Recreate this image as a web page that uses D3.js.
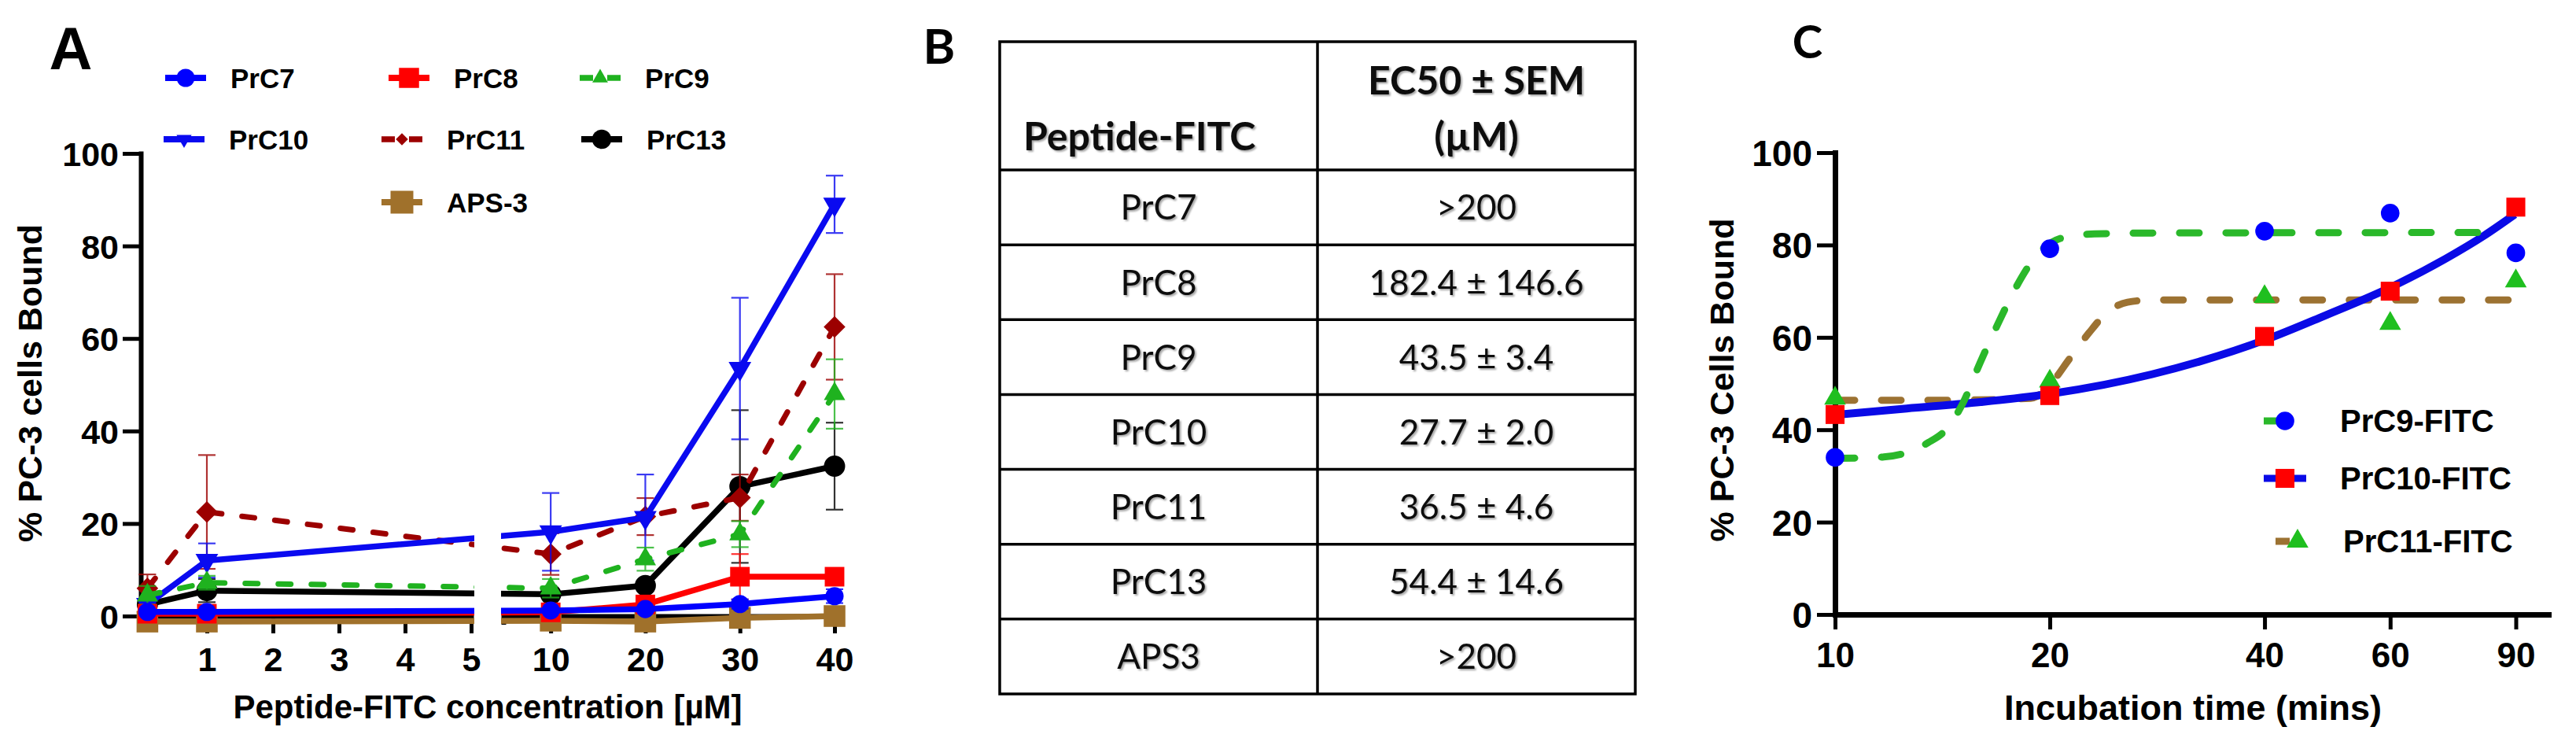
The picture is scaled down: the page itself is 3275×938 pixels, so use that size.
<!DOCTYPE html>
<html>
<head>
<meta charset="utf-8">
<script src="https://cdnjs.cloudflare.com/ajax/libs/d3/7.8.5/d3.min.js"></script>
<style>
    body { margin: 0; background: #ffffff; }
    svg  { display: block; }
</style>
</head>
<body>
<div id="graph_container"></div>
<script>
// ---------- panel A : binding vs concentration (mean, SEM) ----------
var concentrations = [0.1, 1, 10, 20, 30, 40];
var prc7_mean  = [0.9, 0.9, 1.2, 1.5, 2.6, 4.3];
var prc7_sem   = [0.5, 0.5, 0.5, 0.5, 1.0, 1.5];
var prc8_mean  = [0.5, 0.5, 0.8, 2.5, 8.5, 8.5];
var prc8_sem   = [0.5, 0.5, 0.5, 1.0, 4.9, 1.5];
var prc9_mean  = [4.5, 7.2, 6.0, 12.3, 17.7, 48.0];
var prc9_sem   = [2.0, 1.5, 2.0, 2.5, 2.8, 7.5];
var prc10_mean = [2.5, 12.0, 18.2, 21.3, 53.5, 89.0];
var prc10_sem  = [1.0, 3.7, 8.4, 9.3, 15.3, 6.2];
var prc11_mean = [6.0, 22.5, 13.4, 21.5, 25.6, 62.5];
var prc11_sem  = [3.0, 12.3, 4.5, 4.0, 5.0, 11.4];
var prc13_mean = [2.5, 5.5, 4.7, 6.6, 28.0, 32.4];
var prc13_sem  = [1.0, 2.5, 1.0, 1.0, 16.5, 9.4];
var aps3_mean  = [-1.2, -1.2, -1.0, -1.2, -0.4, 0.0];
var aps3_sem   = [0.3, 0.3, 0.3, 0.3, 0.3, 0.3];

var concTicksLow  = [1, 2, 3, 4, 5];
var concTicksHigh = [10, 20, 30, 40];
var percentTicks  = [0, 20, 40, 60, 80, 100];

// ---------- panel B : EC50 table ----------
var tablePeptides = ["PrC7", "PrC8", "PrC9", "PrC10", "PrC11", "PrC13", "APS3"];
var tableEC50     = [">200", "182.4 ± 146.6", "43.5 ± 3.4", "27.7 ± 2.0", "36.5 ± 4.6", "54.4 ± 14.6", ">200"];

// ---------- panel C : binding vs incubation time ----------
var times      = [10, 20, 40, 60, 90];
var timeTicks  = [10, 20, 40, 60, 90];
var prc9_time  = [34.0, 79.2, 83.0, 86.9, 78.3];
var prc10_time = [43.3, 47.4, 60.2, 70.0, 88.2];
var prc11_time = [46.8, 50.5, 68.8, 63.0, 72.2];

// fitted curves
var prc9_fit_t   = [10, 11.7, 13.5, 14.3, 15.1, 16.0, 16.9, 18.0, 19.1, 20.9, 23.1, 27.8, 83.5];
var prc9_fit_y   = [33.8, 34.1, 37.2, 40.0, 45.7, 54.8, 62.8, 71.3, 77.5, 81.6, 82.4, 82.6, 82.7];
var prc10_fit_t  = [10, 12.6, 16.0, 20.1, 27.8, 40.3, 48.4, 60.4, 71.7, 81.2, 89.7];
var prc10_fit_y  = [43.2, 44.6, 46.0, 47.8, 52.0, 59.6, 64.6, 71.0, 77.0, 82.0, 86.6];
var prc11_fit_t  = [10, 14.3, 18.8, 20.0, 21.3, 22.7, 24.1, 25.7, 27.8, 90];
var prc11_fit_y  = [46.4, 46.4, 46.8, 49.7, 55.3, 61.0, 65.5, 67.6, 68.1, 68.1];


var arial   = "'Liberation Sans', Arial, Helvetica, sans-serif";
var calibri = "Lato, 'Open Sans', sans-serif";

var svg = d3.select("#graph_container").append("svg")
    .attr("width", 3275)
    .attr("height", 938);

svg.append("rect").attr("width", 3275).attr("height", 938).attr("fill", "#ffffff");

var defs = svg.append("defs");
var shadow = defs.append("filter").attr("id", "txtshadow")
    .attr("x", "-10%").attr("y", "-20%").attr("width", "130%").attr("height", "150%");
shadow.append("feDropShadow")
    .attr("dx", 2).attr("dy", 2).attr("stdDeviation", 1.2)
    .attr("flood-color", "#000").attr("flood-opacity", 0.35);

// marker shapes: d3 symbols, a few of them turned
var symbolTypes = {
    circle:       [d3.symbolCircle, 0],
    square:       [d3.symbolSquare, 0],
    triangle:     [d3.symbolTriangle, 0],
    triangleDown: [d3.symbolTriangle, 180],
    diamond:      [d3.symbolSquare, 45]
};

function addMarker(sel, kind, size, color) {
    return sel.append("path")
        .attr("d", d3.symbol().type(symbolTypes[kind][0]).size(size)())
        .attr("fill", color);
}

function markerTransform(x, y, kind) {
    var r = symbolTypes[kind][1];
    return "translate(" + x + "," + y + ")" + (r ? " rotate(" + r + ")" : "");
}

function styleAxis(g, lineW, tickW) {
    g.select(".domain").attr("stroke", "#000").attr("stroke-width", lineW).attr("stroke-linecap", "square");
    g.selectAll(".tick line").attr("stroke", "#000").attr("stroke-width", tickW);
}


// =====================================================================
// Panel A
// =====================================================================
function draw_panel_a() {
    var g = svg.append("g");

    var yA     = d3.scaleLinear().domain([0, 100]).range([783, 195]);
    var xLow   = d3.scaleLinear().domain([0, 5]).range([179, 599]);
    var xHigh  = d3.scaleLinear().domain([5, 40]).range([640, 1061]);
    var xA     = function(v) { return v <= 5 ? xLow(v) : xHigh(v); };

    // legend symbols are drawn smaller than the plotted ones for a few sets
    var series = [
        {name: "PrC7",  mean: prc7_mean,  sem: prc7_sem,  color: "#0000ff", dashed: false, sym: "circle",       size: 420, legSize: 415, lx: 236, ly: 99},
        {name: "PrC8",  mean: prc8_mean,  sem: prc8_sem,  color: "#ff0000", dashed: false, sym: "square",       size: 620, legSize: 650, lx: 520, ly: 99},
        {name: "PrC9",  mean: prc9_mean,  sem: prc9_sem,  color: "#1fb21f", dashed: true,  sym: "triangle",     size: 320, legSize: 170, lx: 763, ly: 99},
        {name: "PrC10", mean: prc10_mean, sem: prc10_sem, color: "#0a0af0", dashed: false, sym: "triangleDown", size: 360, legSize: 160, lx: 234, ly: 177},
        {name: "PrC11", mean: prc11_mean, sem: prc11_sem, color: "#9c0000", dashed: true,  sym: "diamond",      size: 380, legSize: 120, lx: 511, ly: 177},
        {name: "PrC13", mean: prc13_mean, sem: prc13_sem, color: "#000000", dashed: false, sym: "circle",       size: 570, legSize: 470, lx: 765, ly: 177},
        {name: "APS-3", mean: aps3_mean,  sem: aps3_sem,  color: "#a0712b", dashed: false, sym: "square",       size: 760, legSize: 840, lx: 511, ly: 257}
    ];

    // axes
    var yAxis = g.append("g").attr("transform", "translate(179,0)")
        .call(d3.axisLeft(yA).tickValues(percentTicks).tickSize(23).tickSizeOuter(0).tickPadding(5));
    styleAxis(yAxis, 6, 5);
    yAxis.selectAll("text").attr("font-family", arial).attr("font-weight", "bold")
        .attr("font-size", 43).attr("fill", "#000").attr("dy", "0.36em");

    [[xLow, concTicksLow, 0], [xHigh, concTicksHigh, 8]].forEach(function(p) {
        var ax = g.append("g").attr("transform", "translate(0,783)")
            .call(d3.axisBottom(p[0]).tickValues(p[1]).tickFormat(d3.format("d"))
                .tickSize(22).tickSizeOuter(p[2]));
        styleAxis(ax, 6, 5);
        ax.selectAll("text").attr("font-family", arial).attr("font-weight", "bold")
            .attr("font-size", 43).attr("fill", "#000").attr("y", 70).attr("dy", null);
    });

    // data, last data set first so PrC7 ends on top
    series.slice().reverse().forEach(function(s) {
        var pts = concentrations.map(function(c, i) { return {x: c, y: s.mean[i], e: s.sem[i]}; });

        var eb = g.append("g").attr("stroke", s.color).attr("stroke-width", 2.2).attr("opacity", 0.8);
        eb.selectAll("line.v").data(pts).enter().append("line")
            .attr("x1", function(d) { return xA(d.x); }).attr("x2", function(d) { return xA(d.x); })
            .attr("y1", function(d) { return yA(d.y + d.e); }).attr("y2", function(d) { return yA(d.y - d.e); });
        eb.selectAll("line.t").data(pts).enter().append("line")
            .attr("x1", function(d) { return xA(d.x) - 11; }).attr("x2", function(d) { return xA(d.x) + 11; })
            .attr("y1", function(d) { return yA(d.y + d.e); }).attr("y2", function(d) { return yA(d.y + d.e); });
        eb.selectAll("line.b").data(pts).enter().append("line")
            .attr("x1", function(d) { return xA(d.x) - 11; }).attr("x2", function(d) { return xA(d.x) + 11; })
            .attr("y1", function(d) { return yA(d.y - d.e); }).attr("y2", function(d) { return yA(d.y - d.e); });

        var line = d3.line().x(function(d) { return xA(d.x); }).y(function(d) { return yA(d.y); });
        g.append("path").datum(pts)
            .attr("d", line)
            .attr("fill", "none")
            .attr("stroke", s.color)
            .attr("stroke-width", s.dashed ? 7 : 7.5)
            .attr("stroke-linecap", s.dashed ? "round" : "butt")
            .attr("stroke-linejoin", "round")
            .attr("stroke-dasharray", s.dashed ? "16 26" : null);

        pts.forEach(function(d) {
            addMarker(g, s.sym, s.size, s.color).attr("transform", markerTransform(xA(d.x), yA(d.y), s.sym));
        });
    });

    // axis break
    g.append("rect").attr("x", 603).attr("y", 150).attr("width", 34).attr("height", 680).attr("fill", "#ffffff");

    // legend
    series.forEach(function(s) {
        var cx = s.lx, cy = s.ly;
        var lg = g.append("g");
        if (s.dashed) {
            lg.append("line").attr("x1", cx - 26).attr("x2", cx - 9).attr("y1", cy).attr("y2", cy)
                .attr("stroke", s.color).attr("stroke-width", 7.5);
            lg.append("line").attr("x1", cx + 9).attr("x2", cx + 26).attr("y1", cy).attr("y2", cy)
                .attr("stroke", s.color).attr("stroke-width", 7.5);
        } else {
            lg.append("line").attr("x1", cx - 26).attr("x2", cx + 26).attr("y1", cy).attr("y2", cy)
                .attr("stroke", s.color).attr("stroke-width", 8);
        }
        addMarker(lg, s.sym, s.legSize, s.color).attr("transform", markerTransform(cx, cy, s.sym));
        lg.append("text").attr("x", cx + 57).attr("y", cy).attr("dy", "0.36em")
            .attr("font-family", arial).attr("font-weight", "bold").attr("font-size", 35)
            .text(s.name);
    });

    // titles
    g.append("text").attr("x", 90).attr("y", 88).attr("text-anchor", "middle")
        .attr("font-family", arial).attr("font-weight", "bold").attr("font-size", 76).text("A");
    g.append("text").attr("transform", "translate(53,487) rotate(-90)").attr("text-anchor", "middle")
        .attr("font-family", arial).attr("font-weight", "bold").attr("font-size", 43).text("% PC-3 cells Bound");
    g.append("text").attr("x", 620).attr("y", 913).attr("text-anchor", "middle")
        .attr("font-family", arial).attr("font-weight", "bold").attr("font-size", 42)
        .text("Peptide-FITC concentration [µM]");
}


// =====================================================================
// Panel B
// =====================================================================
function draw_panel_b() {
    var g = svg.append("g");

    var colX = d3.scaleBand().domain(["peptide", "ec50"]).range([1271, 2079]);
    var rowY = d3.scaleBand().domain(tablePeptides).range([216, 882]);
    var top  = 53;

    g.append("rect")
        .attr("x", 1271).attr("y", top).attr("width", 2079 - 1271).attr("height", 882 - top)
        .attr("fill", "none").attr("stroke", "#000").attr("stroke-width", 3.5);
    g.append("line").attr("x1", colX("ec50")).attr("x2", colX("ec50")).attr("y1", top).attr("y2", 882)
        .attr("stroke", "#000").attr("stroke-width", 3.5);

    g.selectAll("line.row").data(tablePeptides).enter().append("line")
        .attr("x1", 1271).attr("x2", 2079)
        .attr("y1", function(d) { return rowY(d); }).attr("y2", function(d) { return rowY(d); })
        .attr("stroke", "#000").attr("stroke-width", 3.5);

    var txt = g.append("g").attr("font-family", calibri).attr("fill", "#111").attr("filter", "url(#txtshadow)");

    txt.append("text").attr("x", 1301).attr("y", 173).attr("dy", "0.36em")
        .attr("font-weight", "bold").attr("font-size", 50).text("Peptide-FITC");
    txt.append("text").attr("x", colX("ec50") + colX.bandwidth() / 2).attr("y", 102).attr("dy", "0.36em")
        .attr("text-anchor", "middle").attr("font-weight", "bold").attr("font-size", 50).text("EC50 ± SEM");
    txt.append("text").attr("x", colX("ec50") + colX.bandwidth() / 2).attr("y", 173).attr("dy", "0.36em")
        .attr("text-anchor", "middle").attr("font-weight", "bold").attr("font-size", 50).text("(µM)");

    txt.selectAll("text.pep").data(tablePeptides).enter().append("text")
        .attr("x", colX("peptide") + colX.bandwidth() / 2)
        .attr("y", function(d) { return rowY(d) + rowY.bandwidth() / 2; })
        .attr("dy", "0.36em").attr("text-anchor", "middle").attr("font-size", 44)
        .text(function(d) { return d; });

    txt.selectAll("text.ec").data(tableEC50).enter().append("text")
        .attr("x", colX("ec50") + colX.bandwidth() / 2)
        .attr("y", function(d, i) { return rowY(tablePeptides[i]) + rowY.bandwidth() / 2; })
        .attr("dy", "0.36em").attr("text-anchor", "middle").attr("font-size", 44)
        .text(function(d) { return d; });

    g.append("text").attr("x", 1194).attr("y", 81).attr("text-anchor", "middle")
        .attr("font-family", calibri).attr("font-weight", "bold").attr("font-size", 62).text("B");
}


// =====================================================================
// Panel C
// =====================================================================
function draw_panel_c() {
    var g = svg.append("g");

    var xC = d3.scaleLog().domain([10, 100]).range([2333, 3240]);
    var yC = d3.scaleLinear().domain([0, 100]).range([781, 194]);

    var yAxis = g.append("g").attr("transform", "translate(2333,0)")
        .call(d3.axisLeft(yC).tickValues(percentTicks).tickSize(23).tickSizeOuter(0).tickPadding(6));
    styleAxis(yAxis, 7, 5);
    yAxis.selectAll("text").attr("font-family", arial).attr("font-weight", "bold")
        .attr("font-size", 46).attr("fill", "#000").attr("dy", "0.36em");

    var xAxis = g.append("g").attr("transform", "translate(0,781)")
        .call(d3.axisBottom(xC).tickValues(timeTicks).tickFormat(d3.format("d")).tickSize(19).tickSizeOuter(0));
    styleAxis(xAxis, 7, 5);
    xAxis.selectAll("text").attr("font-family", arial).attr("font-weight", "bold")
        .attr("font-size", 44).attr("fill", "#000").attr("y", 67).attr("dy", null);

    var curve = d3.line()
        .x(function(d) { return xC(d[0]); })
        .y(function(d) { return yC(d[1]); })
        .curve(d3.curveMonotoneX);

    var fits = [
        {t: prc11_fit_t, y: prc11_fit_y, color: "#9c7232", dashed: true},
        {t: prc10_fit_t, y: prc10_fit_y, color: "#0a0ae6", dashed: false},
        {t: prc9_fit_t,  y: prc9_fit_y,  color: "#2ab82a", dashed: true}
    ];
    fits.forEach(function(f) {
        g.append("path").datum(d3.zip(f.t, f.y))
            .attr("d", curve)
            .attr("fill", "none")
            .attr("stroke", f.color)
            .attr("stroke-width", f.dashed ? 9 : 10)
            .attr("stroke-linecap", f.dashed ? "round" : "butt")
            .attr("stroke-dasharray", f.dashed ? "25 34" : null);
    });

    var marks = [
        {vals: prc11_time, color: "#1fbf1f", sym: "triangle", size: 330},
        {vals: prc9_time,  color: "#0000ff", sym: "circle",   size: 440},
        {vals: prc10_time, color: "#ff0000", sym: "square",   size: 580}
    ];
    marks.forEach(function(m) {
        times.forEach(function(t, i) {
            addMarker(g, m.sym, m.size, m.color).attr("transform", markerTransform(xC(t), yC(m.vals[i]), m.sym));
        });
    });

    // legend
    var legend = [
        {name: "PrC9-FITC",  y: 535, line: "#2ab82a", lx: [2878, 2897], mark: "#0000ff", sym: "circle",   size: 440, mx: 2905, tx: 2975},
        {name: "PrC10-FITC", y: 608, line: "#0a0ae6", lx: [2878, 2932], mark: "#ff0000", sym: "square",   size: 580, mx: 2905, tx: 2975},
        {name: "PrC11-FITC", y: 688, line: "#9c7232", lx: [2893, 2911], mark: "#1fbf1f", sym: "triangle", size: 330, mx: 2921, tx: 2979}
    ];
    legend.forEach(function(l) {
        g.append("line").attr("x1", l.lx[0]).attr("x2", l.lx[1]).attr("y1", l.y).attr("y2", l.y)
            .attr("stroke", l.line).attr("stroke-width", 9);
        addMarker(g, l.sym, l.size, l.mark).attr("transform", markerTransform(l.mx, l.y, l.sym));
        g.append("text").attr("x", l.tx).attr("y", l.y).attr("dy", "0.36em")
            .attr("font-family", arial).attr("font-weight", "bold").attr("font-size", 40).text(l.name);
    });

    g.append("text").attr("x", 2298).attr("y", 74).attr("text-anchor", "middle")
        .attr("font-family", calibri).attr("font-weight", "bold").attr("font-size", 58).text("C");
    g.append("text").attr("transform", "translate(2204,483) rotate(-90)").attr("text-anchor", "middle")
        .attr("font-family", arial).attr("font-weight", "bold").attr("font-size", 43).text("% PC-3 Cells Bound");
    g.append("text").attr("x", 2788).attr("y", 915).attr("text-anchor", "middle")
        .attr("font-family", arial).attr("font-weight", "bold").attr("font-size", 45).text("Incubation time (mins)");
}

draw_panel_a();
draw_panel_b();
draw_panel_c();
</script>
</body>
</html>
